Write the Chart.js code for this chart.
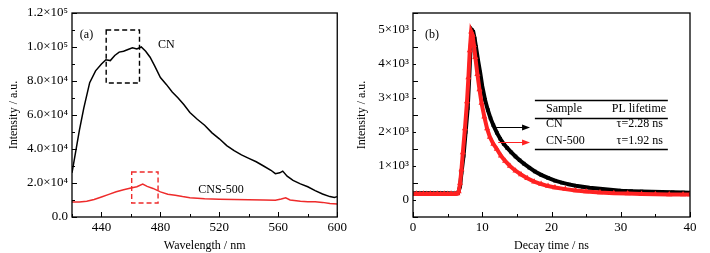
<!DOCTYPE html>
<html lang="en">
<head>
<meta charset="UTF-8">
<title>PL spectra and decay</title>
<script src="https://cdn.jsdelivr.net/npm/chart.js@4/dist/chart.umd.min.js"></script>
<style>
  body { margin: 0; background: #fff; }
  #wrap { position: relative; width: 710px; height: 253px; }
  canvas { position: absolute; top: 0; }
  #plA { left: 0; }
  #plB { left: 350px; }
</style>
</head>
<body>
<div id="wrap">
  <canvas id="plA" width="350" height="253"></canvas>
  <canvas id="plB" width="360" height="253"></canvas>
</div>
<script>
// (a) steady-state PL
const wavelengthCN = [420, 422, 425, 428, 432, 436, 440, 443, 446, 449, 452, 455, 458, 461, 464, 467, 470, 473, 476, 480,
  484, 488, 492, 496, 500, 505, 510, 515, 520, 525, 530, 535, 540, 545, 550, 555, 558, 561, 563, 566,
  570, 575, 580, 585, 590, 595, 598, 600];
const intensityCN = [26000, 36000, 51000, 64000, 79000, 86000, 90000, 92500, 92000, 95000, 97000, 97500, 98500, 99500, 98800, 100000, 97500, 94000, 89000, 82000,
  78000, 73500, 70000, 66000, 61500, 57500, 54000, 49500, 46000, 42000, 39000, 36500, 34500, 32500, 30000, 27500, 25500, 26000, 27000, 24000,
  21500, 19500, 17800, 15500, 13500, 12000, 11500, 12000];
const wavelengthCNS = [420, 425, 430, 435, 440, 445, 450, 455, 460, 464, 468, 471, 475, 480, 485, 490, 495, 500, 510, 520,
  530, 540, 550, 558, 562, 565, 568, 575, 580, 585, 590, 595, 600];
const intensityCNS = [8800, 8800, 9300, 10300, 11800, 13300, 14800, 16000, 17000, 17800, 19400, 18000, 16800, 14800, 13400, 12800, 12000, 11300, 10800, 10500,
  10300, 10200, 10000, 9800, 10600, 11300, 10000, 9200, 9000, 9000, 8600, 8000, 7600];
const ticksA_x = [440, 480, 520, 560, 600];
const ticksA_y = [0, 20000, 40000, 60000, 80000, 100000, 120000];

// (b) PL decay
const decayTimeCN = [0, 0.5, 1, 1.5, 2, 2.5, 3, 3.5, 4, 4.5, 5, 5.5, 6, 6.5, 6.8, 7.0, 7.3, 7.6, 7.9, 8.1,
  8.3, 8.5, 8.7, 8.9, 9.1, 9.4, 9.7, 10.0, 10.4, 10.8, 11.2, 11.6, 12.1, 12.6, 13.1, 13.6, 14.2, 14.8, 15.4, 16,
  16.8, 17.6, 18.5, 19.5, 20.5, 21.5, 22.5, 23.5, 24.5, 25.5, 27, 28.5, 30, 31.5, 33, 34.5, 36, 37.5, 39, 40];
const decayCN = [190, 200, 195, 200, 195, 200, 195, 195, 200, 195, 195, 190, 190, 200, 400, 800, 1300, 2000, 2700, 3500,
  4400, 5000, 4950, 4750, 4500, 4100, 3750, 3350, 2950, 2650, 2400, 2200, 1980, 1800, 1650, 1530, 1400, 1280, 1170, 1070,
  950, 840, 740, 650, 570, 510, 460, 420, 390, 360, 330, 300, 275, 260, 250, 240, 235, 225, 220, 215];
const decayTimeCNS = [0, 0.5, 1, 1.5, 2, 2.5, 3, 3.5, 4, 4.5, 5, 5.5, 6, 6.4, 6.6, 6.8, 7.0, 7.2, 7.5, 7.8,
  8.0, 8.2, 8.4, 8.6, 8.8, 9.0, 9.3, 9.6, 9.9, 10.3, 10.7, 11.1, 11.6, 12.1, 12.7, 13.3, 14, 14.8, 15.6, 16.5,
  17.5, 18.5, 19.5, 20.5, 22, 23.5, 25, 27, 29, 31, 33, 35, 37, 39, 40];
const decayCNS = [180, 185, 180, 185, 180, 185, 180, 185, 180, 185, 180, 185, 180, 190, 250, 500, 900, 1400, 2100, 2900,
  3600, 4400, 4950, 4850, 4550, 4200, 3700, 3250, 2850, 2450, 2100, 1850, 1650, 1500, 1300, 1150, 1000, 860, 750, 640,
  540, 470, 410, 370, 320, 280, 250, 220, 200, 190, 180, 170, 165, 160, 160];
const ticksB_x = [0, 10, 20, 30, 40];
const ticksB_y = [0, 1000, 2000, 3000, 4000, 5000];

const FONT = "'Liberation Serif', 'Times New Roman', serif";
const SUP = { '3': '\u00b3', '4': '\u2074', '5': '\u2075' };

function sciLabel(v) {
  if (v === 0) return '0.0';
  const e = Math.floor(Math.log10(v));
  return (v / Math.pow(10, e)).toFixed(1) + '\u00d710' + SUP[e];
}

// box around plot, inward major + minor ticks, text notes
const framePlugin = {
  id: 'frame',
  afterDatasetsDraw(chart, args, opts) {
    const { ctx, chartArea: a, scales } = chart;
    ctx.save();
    ctx.strokeStyle = '#000';
    ctx.lineWidth = 1.3;
    ctx.setLineDash([]);
    ctx.strokeRect(a.left, a.top, a.right - a.left, a.bottom - a.top);
    ctx.lineWidth = 1;
    const xs = scales.x, ys = scales.y;
    const xt = opts.xTicks, yt = opts.yTicks;
    const xstep = xt[1] - xt[0], ystep = yt[1] - yt[0];
    for (let v = xs.min; v <= xs.max + 1e-9; v += xstep / 2) {
      const px = Math.round(xs.getPixelForValue(v)) + 0.5;
      const major = Math.abs(((v - xt[0]) % xstep + xstep) % xstep) < 1e-6;
      const len = major ? 5 : 3;
      ctx.beginPath();
      ctx.moveTo(px, a.bottom);
      ctx.lineTo(px, a.bottom - len);
      ctx.stroke();
    }
    for (let v = ys.min; v <= ys.max + 1e-9; v += ystep / 2) {
      const py = Math.round(ys.getPixelForValue(v)) + 0.5;
      const major = Math.abs(((v - yt[0]) % ystep + ystep) % ystep) < 1e-6;
      const len = major ? 5 : 3;
      ctx.beginPath();
      ctx.moveTo(a.left, py);
      ctx.lineTo(a.left + len, py);
      ctx.stroke();
    }
    // notes
    ctx.font = '12px ' + FONT;
    ctx.textBaseline = 'middle';
    (opts.texts || []).forEach(n => {
      ctx.fillStyle = n.color || '#000';
      ctx.textAlign = n.align || 'left';
      ctx.fillText(n.text, xs.getPixelForValue(n.x), ys.getPixelForValue(n.y));
    });
    (opts.boxes || []).forEach(b => {
      ctx.strokeStyle = b.color;
      ctx.lineWidth = 1.4;
      ctx.setLineDash(b.dash);
      const x0 = xs.getPixelForValue(b.x0), x1 = xs.getPixelForValue(b.x1);
      const y0 = ys.getPixelForValue(b.y0), y1 = ys.getPixelForValue(b.y1);
      ctx.strokeRect(x0, y1, x1 - x0, y0 - y1);
    });
    ctx.setLineDash([]);
    (opts.rules || []).forEach(r => {
      ctx.strokeStyle = '#000';
      ctx.lineWidth = 1.4;
      const py = Math.round(ys.getPixelForValue(r.y)) + 0.5;
      ctx.beginPath();
      ctx.moveTo(xs.getPixelForValue(r.x0), py);
      ctx.lineTo(xs.getPixelForValue(r.x1), py);
      ctx.stroke();
    });
    (opts.arrows || []).forEach(r => {
      const x0 = xs.getPixelForValue(r.x0), x1 = xs.getPixelForValue(r.x1);
      const py = Math.round(ys.getPixelForValue(r.y)) + 0.5;
      ctx.strokeStyle = r.color;
      ctx.fillStyle = r.color;
      ctx.lineWidth = 1;
      ctx.beginPath();
      ctx.moveTo(x0, py);
      ctx.lineTo(x1 - 6, py);
      ctx.stroke();
      ctx.beginPath();
      ctx.moveTo(x1, py);
      ctx.lineTo(x1 - 8, py - 3);
      ctx.lineTo(x1 - 8, py + 3);
      ctx.closePath();
      ctx.fill();
    });
    ctx.restore();
  }
};

function axisCommon(min, max, ticks, callback, title, pad, isX) {
  return {
    type: 'linear',
    min: min,
    max: max,
    grid: { display: false, drawTicks: false },
    border: { display: false },
    afterBuildTicks: s => { s.ticks = ticks.map(v => ({ value: v })); },
    afterFit: s => { if (isX) s.height = 36; else s.width = pad.w; },
    ticks: { color: '#000', font: { family: FONT, size: 13 }, padding: isX ? 3 : 4, callback: callback, maxRotation: 0, autoSkip: false },
    title: { display: true, text: title, color: '#000', font: { family: FONT, size: 12 }, padding: { top: pad.t, bottom: 0 } }
  };
}

Chart.defaults.animation = false;

new Chart(document.getElementById('plA'), {
  type: 'line',
  data: {
    datasets: [
      {
        data: wavelengthCN.map((x, i) => ({ x: x, y: intensityCN[i] })),
        borderColor: '#000', borderWidth: 1.5, pointRadius: 0, tension: 0
      },
      {
        data: wavelengthCNS.map((x, i) => ({ x: x, y: intensityCNS[i] })),
        borderColor: '#ee2b2b', borderWidth: 1.5, pointRadius: 0, tension: 0
      }
    ]
  },
  options: {
    responsive: false,
    layout: { padding: { top: 13, right: 7, left: 0, bottom: 0 } },
    plugins: {
      legend: { display: false }, tooltip: { enabled: false },
      frame: {
        xTicks: ticksA_x, yTicks: ticksA_y,
        texts: [
          { text: '(a)', x: 425.3, y: 107000 },
          { text: 'CN', x: 478.4, y: 101000 },
          { text: 'CNS-500', x: 505.7, y: 15900 }
        ],
        boxes: [
          { x0: 443.2, x1: 465.8, y0: 78800, y1: 110000, color: '#000', dash: [5, 3] },
          { x0: 460.5, x1: 478.4, y0: 8200, y1: 26500, color: '#ee2b2b', dash: [5, 3] }
        ]
      }
    },
    scales: {
      x: axisCommon(420, 600, ticksA_x, v => String(v), 'Wavelength / nm', { t: 5 }, true),
      y: axisCommon(0, 120000, ticksA_y, v => sciLabel(v), 'Intensity / a.u.', { t: 7, w: 72 }, false)
    }
  },
  plugins: [framePlugin]
});

new Chart(document.getElementById('plB'), {
  type: 'line',
  data: {
    datasets: [
      {
        data: decayTimeCNS.map((x, i) => ({ x: x, y: decayCNS[i] })),
        borderColor: '#ff2222', backgroundColor: '#ff2222', borderWidth: 4,
        pointStyle: 'triangle', pointRadius: 3.5, pointBorderWidth: 0, tension: 0
      },
      {
        data: decayTimeCN.map((x, i) => ({ x: x, y: decayCN[i] })),
        borderColor: '#000', backgroundColor: '#000', borderWidth: 4,
        pointStyle: 'rect', pointRadius: 2.5, pointBorderWidth: 0, tension: 0
      }
    ]
  },
  options: {
    responsive: false,
    layout: { padding: { top: 13, right: 20, left: 0, bottom: 0 } },
    plugins: {
      legend: { display: false }, tooltip: { enabled: false },
      frame: {
        xTicks: ticksB_x, yTicks: [-500, 500, 1500],
        texts: [
          { text: '(b)', x: 1.73, y: 4850 },
          { text: 'Sample', x: 19.2, y: 2680 },
          { text: 'PL lifetime', x: 28.7, y: 2680 },
          { text: 'CN', x: 19.2, y: 2235 },
          { text: '\u03c4=2.28 ns', x: 29.4, y: 2235 },
          { text: 'CN-500', x: 19.2, y: 1735 },
          { text: '\u03c4=1.92 ns', x: 29.4, y: 1735 }
        ],
        rules: [
          { x0: 17.6, x1: 36.8, y: 2940 },
          { x0: 17.6, x1: 36.8, y: 2410 },
          { x0: 17.6, x1: 36.8, y: 1500 }
        ],
        arrows: [
          { x0: 12.0, x1: 16.9, y: 2150, color: '#000' },
          { x0: 12.3, x1: 16.9, y: 1700, color: '#ff2222' }
        ]
      }
    },
    scales: {
      x: axisCommon(0, 40, ticksB_x, v => String(v), 'Decay time / ns', { t: 5 }, true),
      y: axisCommon(-500, 5500, ticksB_y, v => v === 0 ? '0' : (v / 1000) + '\u00d710\u00b3', 'Intensity / a.u.', { t: 5, w: 63 }, false)
    }
  },
  plugins: [framePlugin]
});
</script>
</body>
</html>
